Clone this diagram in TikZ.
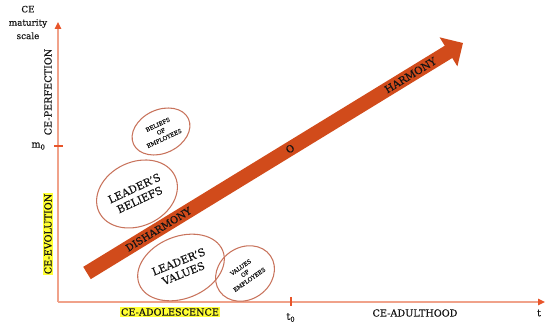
\documentclass[tikz,border=0pt]{standalone}
\usepackage{fontspec}
\setmainfont[FakeBold=0.3]{DejaVu Serif}
\usepackage{xcolor}
\usepackage{tikz}
\usetikzlibrary{positioning,shapes.geometric,arrows.meta}
\definecolor{axisline}{HTML}{F0A28A}
\definecolor{axistip}{HTML}{E8552A}
\definecolor{flowred}{HTML}{D14B1B}
\definecolor{bubbleline}{HTML}{C8735C}
\definecolor{marker}{HTML}{FFFF33}
\definecolor{textdark}{HTML}{141414}

\begin{document}
\begin{tikzpicture}[
    node distance=0.8cm and 2.5cm,
    every node/.style={font=\fontsize{5.5}{6.5}\selectfont, text=textdark},
    axis/.style={draw=axisline, line width=0.8pt, -{Triangle[length=1.4mm, width=1.3mm, color=axistip]}},
    tick/.style={draw=axistip, line width=0.6pt},
    flow/.style={draw=flowred, line width=2.88mm, -{Triangle[length=3.4mm, width=6.6mm]}},
    bubble/.style={draw=bubbleline, ellipse, line width=0.6pt, align=center, inner sep=0pt,
                   font=\fontsize{6}{7.2}\selectfont},
    smallbubble/.style={bubble, font=\fontsize{3.2}{4.3}\selectfont},
    hl/.style={fill=marker, inner sep=0.6pt},
]
    \useasboundingbox (0,0) rectangle (11,6.5);

    % axes
    \coordinate (o) at (1.16,0.46);
    \coordinate (ytop) at (1.16,6.06);
    \coordinate (xend) at (10.9,0.46);
    \draw[axis] (o) -- (ytop);
    \draw[axis] (o) -- (xend);

    \coordinate (m0l) at (1.08,3.58);
    \coordinate (m0r) at (1.26,3.58);
    \draw[tick] (m0l) -- (m0r);
    \coordinate (t0a) at (5.82,0.56);
    \coordinate (t0b) at (5.82,0.38);
    \draw[tick] (t0a) -- (t0b);

    \node[align=center, font=\fontsize{5}{7.6}\selectfont] (scale) at (0.56,6.05) {CE\\maturity\\scale};
    \node[left=0.04cm of m0l] (m0) {m\textsubscript{0}};
    \node[below=0.5pt of t0b] (t0) {t\textsubscript{0}};
    \node (t) at (10.78,0.24) {t};

    \node[rotate=90] (perf) at (0.96,4.66) {CE-PERFECTION};
    \node[hl, rotate=90] (evol) at (0.96,1.82) {CE-EVOLUTION};
    \node[hl] (adol) at (3.4,0.26) {CE-ADOLESCENCE};
    \node (adult) at (8.3,0.24) {CE-ADULTHOOD};

    % beliefs and values
    \node[smallbubble, rotate=25, minimum width=1.21cm, minimum height=0.87cm] (bemp) at (3.22,3.87) {BELIEFS\\OF\\EMPLOYEES};
    \node[bubble, rotate=25, minimum width=1.68cm, minimum height=1.28cm] (lbel) at (2.74,2.62) {LEADER'S\\BELIEFS};
    \node[bubble, rotate=22, minimum width=1.8cm, minimum height=1.24cm] (lval) at (3.62,1.15) {LEADER'S\\VALUES};
    \node[smallbubble, rotate=35, minimum width=1.24cm, minimum height=1.04cm] (vemp) at (4.9,1.03) {VALUES\\OF\\EMPLOYEES};

    % maturity arrow
    \coordinate (tail) at (1.74,1.04);
    \coordinate (head) at (9.26,5.64);
    \draw[flow] (tail) -- node[sloped, pos=0.19, font=\fontsize{5.6}{6.5}\selectfont] (dis) {DISHARMONY}
                          node[sloped, pos=0.54, font=\fontsize{5.6}{6.5}\selectfont] (mid) {O}
                          node[sloped, pos=0.86, font=\fontsize{5.8}{6.5}\selectfont] (harm) {HARMONY} (head);
\end{tikzpicture}
\end{document}
